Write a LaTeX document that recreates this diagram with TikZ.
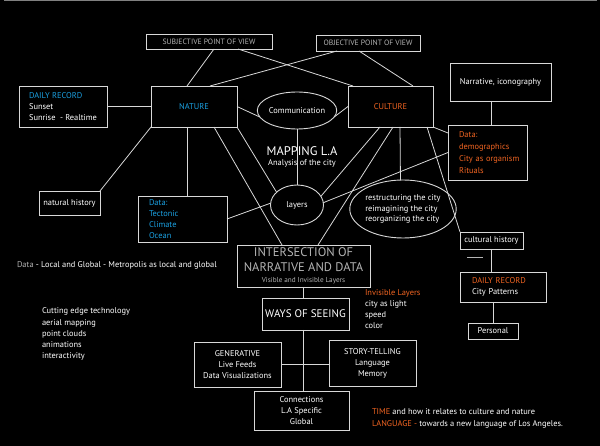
\documentclass[tikz,border=0pt]{standalone}
\usepackage{fontspec}
\setmainfont{PT Sans}
\usetikzlibrary{shapes.geometric,calc}
\definecolor{nblue}{HTML}{1BA1E2}
\definecolor{corange}{HTML}{F26522}
\definecolor{lgray}{HTML}{D8D8D8}
\definecolor{tgray}{HTML}{B4B4B4}
\begin{document}
\begin{tikzpicture}[x=1pt,y=-1pt,
  every node/.style={inner sep=0pt, outer sep=0pt, text=white, font=\fontsize{8.4}{10.8}\selectfont},
  box/.style={draw=lgray, line width=0.9pt, rectangle, align=center},
  oval/.style={draw=lgray, line width=0.9pt, ellipse, align=center},
  link/.style={draw=lgray, line width=0.8pt},
  plain/.style={align=left, anchor=west}
]
\useasboundingbox (0,0) rectangle (600,446);
\fill[black] (0,0) rectangle (600,446);
\draw[gray, line width=1.4pt] (4,0.7) -- (597,0.7);

% top boxes
\node[box, minimum width=126pt, minimum height=15pt, text=tgray, font=\fontsize{7.7}{9}\selectfont] (subj) at (209,41.5) {SUBJECTIVE POINT OF VIEW};
\node[box, minimum width=104pt, minimum height=16pt, text=tgray, font=\fontsize{7.7}{9}\selectfont] (obj) at (368,43) {OBJECTIVE POINT OF VIEW};

\node[box, minimum width=88pt, minimum height=41pt, align=left] (daily1) at (63,106.5) {\textcolor{nblue}{DAILY RECORD}\\Sunset\\Sunrise\ \ - Realtime};
\node[box, minimum width=86pt, minimum height=41pt, text=nblue] (nature) at (194,106.5) {NATURE};
\node[box, minimum width=85pt, minimum height=41pt, text=corange] (culture) at (390.5,106.5) {CULTURE};
\node[box, minimum width=101pt, minimum height=38pt] (narr) at (500.5,82) {Narrative, iconography};

\node[oval, minimum width=67pt, minimum height=37pt] (comm) at (297,110.5) {Communication};
\node[align=center] (mapping) at (302,157) {{\fontsize{12.5}{13}\selectfont MAPPING L.A}\\[-1pt]Analysis of the city};

\node[box, text width=67pt, inner xsep=11pt, minimum height=46pt, align=left, text=nblue] (datab) at (182.5,219) {Data:\\Tectonic\\Climate\\Ocean};
\node[box, minimum width=61pt, minimum height=24pt] (nathist) at (69.5,203) {natural history};
\node[oval, minimum width=53pt, minimum height=40pt] (layers) at (297,205) {layers};
\node[oval, minimum width=88pt, minimum height=58pt, align=left] (restr) at (403,209) {restructuring the city\\reimagining the city\\reorganizing the city};

\node[box, text width=57pt, inner xsep=11pt, minimum height=55pt, align=left, text=corange, font=\fontsize{8.4}{12.2}\selectfont] (datao) at (487.5,152.5) {\mbox{Data:}\\\mbox{demographics}\\\mbox{City as organism}\\\mbox{Rituals}};
\node[box, minimum width=63pt, minimum height=17pt] (culthist) at (491.5,240.5) {cultural history};
\node[box, text width=62pt, inner xsep=12pt, minimum height=30pt, align=left] (daily2) at (503,287) {\textcolor{corange}{DAILY RECORD}\\City Patterns};
\node[box, minimum width=50pt, minimum height=16pt] (personal) at (493,331) {Personal};

\node[box, minimum width=133pt, minimum height=42pt, text=tgray, font=\fontsize{12.5}{15}\selectfont] (inter) at (303.5,266) {INTERSECTION OF\\NARRATIVE AND DATA\\[-4pt]{\fontsize{7.2}{8}\selectfont Visible and Invisible Layers}};
\node[box, minimum width=87pt, minimum height=32pt, font=\fontsize{11}{13}\selectfont] (ways) at (305.5,314) {WAYS OF SEEING};
\node[box, minimum width=87pt, minimum height=45pt] (gen) at (237.5,364.5) {GENERATIVE\\Live Feeds\\Data Visualizations};
\node[box, minimum width=87pt, minimum height=46pt] (story) at (372.5,363.5) {STORY-TELLING\\Language\\Memory};
\node[box, minimum width=95pt, minimum height=39pt] (conn) at (301.5,410.5) {Connections\\L.A Specific\\Global};

% free texts
\node[plain] (dataline) at (17,265) {\textcolor{tgray}{Data} - Local and Global - Metropolis as local and global};
\node[plain] (cutting) at (42,311) {Cutting edge technology};
\node[plain] (techlist) at (42,340) {aerial mapping\\point clouds\\animations\\interactivity};
\node[plain] (invis) at (365,309) {\textcolor{corange}{Invisible Layers}\\city as light\\speed\\color};
\node[plain, font=\fontsize{8.4}{12}\selectfont] (timelang) at (372,418) {\textcolor{corange}{TIME} and how it relates to culture and nature\\\textcolor{corange}{LANGUAGE -} towards a new language of Los Angeles.};

% connectors
\draw[link] ([xshift=5pt]subj.south) -- ([xshift=-7pt]nature.north);
\draw[link] ([xshift=29pt]subj.south) -- ([xshift=-37.5pt]culture.north);
\draw[link] ([xshift=-31pt]obj.south) -- ([xshift=16pt]nature.north);
\draw[link] ([xshift=-9pt]obj.south) -- ([xshift=22.5pt]culture.north);
\draw[link] (daily1.east) -- (nature.west);
\draw[link] (nature.east) -- (comm.190);
\draw[link] (comm.-10) -- (culture.west);
\draw[link] (comm.south) -- (layers.north);
\draw[link] (nature.south west) -- (nathist.north east);
\draw[link] ([xshift=-7pt]nature.south) -- ([xshift=4.5pt]datab.north);
\draw[link] ([xshift=20pt]nature.south) -- ([xshift=-21.5pt]inter.north);
\draw[link] (nature.south east) -- (layers.148);
\draw[link] (datab.east) -- (layers.176);
\draw[link] ([xshift=-10.5pt]culture.south) -- (layers.20);
\draw[link] ([xshift=2.5pt]culture.south) -- ([xshift=14.5pt]inter.north);
\draw[link] ([xshift=9.5pt]culture.south) -- (restr.95);
\draw[link] ([xshift=36.5pt]culture.south) -- (culthist.north west);
\draw[link] (culture.south east) -- ([yshift=-8pt]datao.north west);
\draw[link] ([xshift=-9.5pt]narr.south) -- ([xshift=3.5pt]datao.north);
\draw[link] (layers.5) -- (datao.west);
\draw[link] (culthist.south) -- (culthist.south |- daily2.north);
\draw[link] (personal.north |- daily2.south) -- (personal.north);
\draw[link] (inter.south) -- (inter.south |- ways.north);
\draw[link] ([xshift=-2.5pt]ways.south) -- ([xshift=1.5pt]conn.north);
\draw[link] (gen.east) -- (gen.east -| story.west);
\draw[draw=tgray, line width=0.8pt] (467,257) -- (483,257);
\end{tikzpicture}
\end{document}
